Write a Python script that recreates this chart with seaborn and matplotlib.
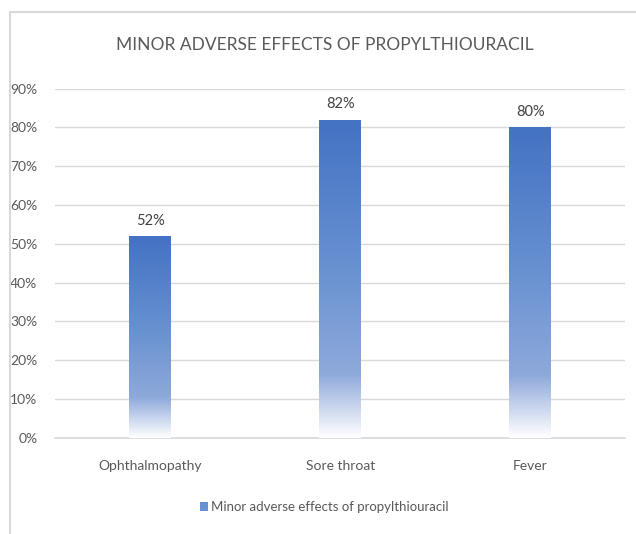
import numpy as np
import pandas as pd
import seaborn as sns
import matplotlib.pyplot as plt
from matplotlib.colors import LinearSegmentedColormap
from matplotlib.patches import Rectangle
from matplotlib.ticker import PercentFormatter

# 数据
categories = ['Ophthalmopathy', 'Sore throat', 'Fever']
values = [0.52, 0.82, 0.80]
series_name = 'Minor adverse effects of propylthiouracil'
title = 'MINOR ADVERSE EFFECTS OF PROPYLTHIOURACIL'

df = pd.DataFrame({'category': categories, 'value': values})

sns.set_style("white")
plt.rcParams['font.family'] = ['Lato', 'DejaVu Sans']

fig = plt.figure(figsize=(6.36, 5.34), dpi=100)
ax = fig.add_axes([0.087, 0.18, 0.896, 0.654])

sns.barplot(data=df, x='category', y='value', color='#4472C4', width=0.22,
            ax=ax, label=series_name)

# 渐变填充
cmap = LinearSegmentedColormap.from_list(
    'grad', [(0.0, '#4472C4'), (0.45, '#6690D0'), (0.8, '#8EA9DB'), (1.0, '#FFFFFF')])
grad = np.linspace(0, 1, 256).reshape(-1, 1)
for bar in ax.patches:
    x0, y0 = bar.get_x(), bar.get_y()
    w, h = bar.get_width(), bar.get_height()
    bar.set_facecolor('none')
    bar.set_edgecolor('none')
    im = ax.imshow(grad, cmap=cmap, aspect='auto', extent=[x0, x0 + w, y0, y0 + h],
                   origin='upper', zorder=2)
    im.set_clip_path(bar)
    ax.text(x0 + w / 2, y0 + h + 0.022, f'{h:.0%}', ha='center', va='bottom',
            fontsize=10.5, color='#404040')

ax.set_xlim(-0.5, 2.5)
ax.set_ylim(0, 0.9)
ax.set_yticks(np.arange(0, 0.91, 0.1))
ax.yaxis.set_major_formatter(PercentFormatter(1.0, decimals=0))
ax.grid(axis='y', color='#D9D9D9', linewidth=1)
ax.axhline(0, color='#D9D9D9', linewidth=1.2, clip_on=False, zorder=1)
ax.set_axisbelow(True)
for s in ax.spines.values():
    s.set_visible(False)
ax.tick_params(axis='both', length=0, labelsize=10, labelcolor='#595959')
ax.tick_params(axis='y', pad=13)
ax.tick_params(axis='x', pad=16)
ax.set_xlabel('')
ax.set_ylabel('')

fig.suptitle(title, x=0.51, y=0.93, fontsize=12.5, color='#595959')

# 图例
leg_handle = Rectangle((0, 0), 1, 1, facecolor='#6690D0', edgecolor='none')
fig.legend([leg_handle], [series_name], loc='center', bbox_to_anchor=(0.51, 0.05),
           frameon=False, fontsize=9.5, handlelength=0.6, handleheight=0.7,
           handletextpad=0.3, labelcolor='#595959')
if ax.get_legend():
    ax.get_legend().remove()

# 图表边框
fig.lines.append(plt.Line2D([0.015, 1.0], [0.978, 0.978], transform=fig.transFigure,
                            color='#D9D9D9', linewidth=1.5))
fig.lines.append(plt.Line2D([0.015, 0.015], [0, 0.978], transform=fig.transFigure,
                            color='#D9D9D9', linewidth=1.5))

plt.savefig('out.png', dpi=100)
